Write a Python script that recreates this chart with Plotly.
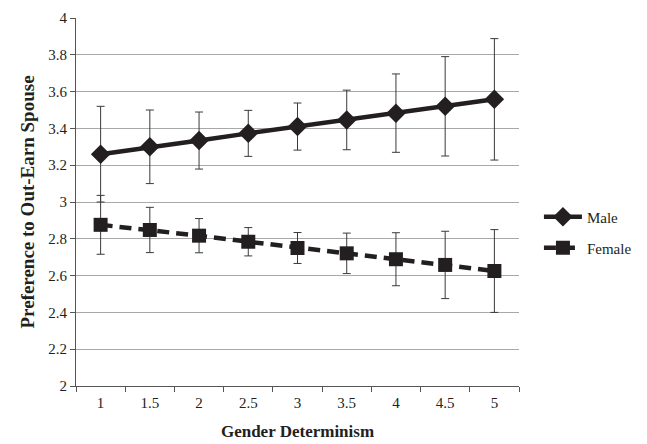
import plotly.graph_objects as go

categories = ["1", "1.5", "2", "2.5", "3", "3.5", "4", "4.5", "5"]
male_values = [3.26, 3.30, 3.334, 3.373, 3.41, 3.446, 3.483, 3.52, 3.558]
male_err = [0.26, 0.20, 0.155, 0.125, 0.128, 0.162, 0.213, 0.27, 0.33]
female_values = [2.876, 2.848, 2.817, 2.784, 2.75, 2.721, 2.689, 2.658, 2.625]
female_err = [0.16, 0.123, 0.093, 0.077, 0.084, 0.11, 0.144, 0.183, 0.225]
y_ticks = [2, 2.2, 2.4, 2.6, 2.8, 3, 3.2, 3.4, 3.6, 3.8, 4]
y_tick_labels = ["2", "2.2", "2.4", "2.6", "2.8", "3", "3.2", "3.4", "3.6", "3.8", "4"]

FONT = "Liberation Serif, Times New Roman, serif"
INK = "#231f20"

fig = go.Figure()
fig.add_trace(go.Scatter(
    x=categories, y=male_values, name="Male", mode="lines+markers",
    line=dict(color=INK, width=4.5),
    marker=dict(symbol="diamond", size=15, color=INK),
    error_y=dict(type="data", array=male_err, visible=True,
                 color="#3a3a3a", thickness=1, width=4),
    legend="legend",
))
fig.add_trace(go.Scatter(
    x=categories, y=female_values, name="Female", mode="lines+markers",
    line=dict(color=INK, width=4.5, dash="12px,7px"),
    marker=dict(symbol="square", size=14, color=INK),
    error_y=dict(type="data", array=female_err, visible=True,
                 color="#3a3a3a", thickness=1, width=4),
    legend="legend2",
))

leg_common = dict(xanchor="left", yanchor="middle", itemwidth=38,
                  font=dict(family=FONT, size=15, color=INK),
                  bgcolor="rgba(0,0,0,0)")

fig.update_layout(
    width=639, height=436,
    margin=dict(l=68, r=124, t=10, b=58),
    paper_bgcolor="white", plot_bgcolor="white",
    font=dict(family=FONT, size=15, color=INK),
    legend=dict(x=1.045, y=0.459, **leg_common),
    legend2=dict(x=1.045, y=0.375, **leg_common),
    showlegend=True,
)
fig.update_xaxes(
    type="category", range=[-0.5, 8.5], automargin=False,
    tickson="boundaries", ticks="outside", ticklen=5, tickcolor="#555555",
    showline=True, linecolor="#555555", linewidth=1,
    showgrid=False, zeroline=False,
    tickfont=dict(family=FONT, size=15, color=INK),
    ticklabelstandoff=3,
    title=dict(text="<b>Gender Determinism</b>", font=dict(family=FONT, size=17, color=INK), standoff=15),
)
fig.update_yaxes(
    range=[2, 4], tickvals=y_ticks, ticktext=y_tick_labels, automargin=False,
    ticks="outside", ticklen=5, tickcolor="#555555",
    showline=True, linecolor="#555555", linewidth=1,
    showgrid=True, gridcolor="#a8a8a8", gridwidth=1, zeroline=False,
    tickfont=dict(family=FONT, size=15, color=INK),
    title=dict(text="<b>Preference to Out-Earn Spouse</b>", font=dict(family=FONT, size=19, color=INK), standoff=8),
)

fig.write_html("out.html")
